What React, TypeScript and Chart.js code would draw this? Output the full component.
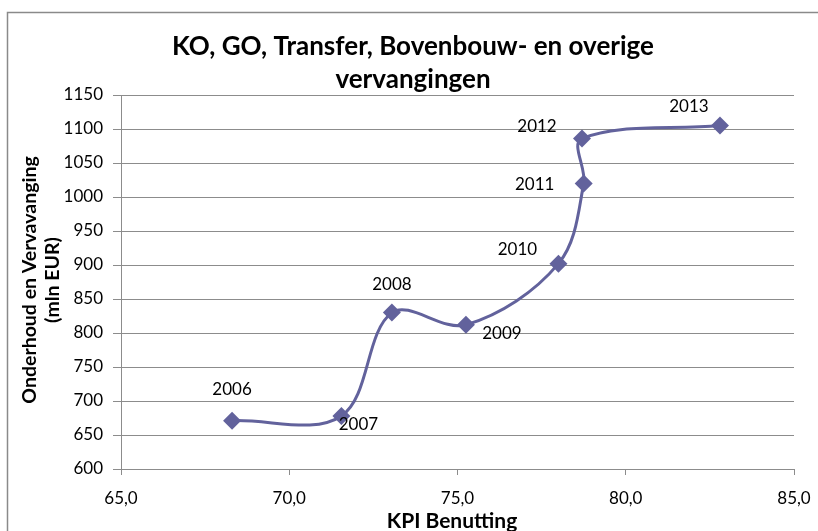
import React, { useEffect, useRef } from "react";
import { Chart, registerables } from "chart.js";

Chart.register(...registerables);

const years = ["2006", "2007", "2008", "2009", "2010", "2011", "2012", "2013"];
const kpiBenutting = [68.3, 71.55, 73.05, 75.25, 78.0, 78.75, 78.7, 82.8];
const onderhoud = [671, 678, 830, 812, 902, 1020, 1086, 1105];
const xTickValues = [65, 70, 75, 80, 85];
const yTickValues = [600, 650, 700, 750, 800, 850, 900, 950, 1000, 1050, 1100, 1150];

const titleLines = ["KO, GO, Transfer, Bovenbouw- en overige", "vervangingen"];
const yTitleLines = ["Onderhoud en Vervavanging", "(mln EUR)"];
const xTitle = "KPI Benutting";

// label offsets relative to each point (dx, dy) in px
const labelOffsets = [
  [0, -31],
  [17, 9],
  [0, -28],
  [36, 9],
  [-41, -14],
  [-49, 1],
  [-45, -12],
  [-31, -19],
];

const FONT = "Lato, 'Open Sans', sans-serif";
const LINE = "#62629c";
const GRID = "#8c8c8c";

const decor = {
  id: "decor",
  afterDraw(chart: any) {
    const ctx = chart.ctx;
    const area = chart.chartArea;
    ctx.save();
    // outer border
    ctx.strokeStyle = "#8a8a8a";
    ctx.lineWidth = 1.5;
    ctx.strokeRect(7.5, 12.5, 830, 560);

    // title
    ctx.fillStyle = "#000";
    ctx.textAlign = "center";
    ctx.textBaseline = "middle";
    ctx.font = `bold 26px ${FONT}`;
    ctx.fillText(titleLines[0], 413, 47);
    ctx.fillText(titleLines[1], 413, 80);

    // x title
    ctx.font = `bold 21px ${FONT}`;
    ctx.fillText(xTitle, 452, 521);

    // y title
    ctx.save();
    ctx.translate(30, (area.top + area.bottom) / 2 - 2);
    ctx.rotate(-Math.PI / 2);
    ctx.font = `bold 19.5px ${FONT}`;
    ctx.fillText(yTitleLines[0], 0, 0);
    ctx.fillText(yTitleLines[1], 0, 23);
    ctx.restore();

    // data labels
    const meta = chart.getDatasetMeta(0);
    ctx.font = `17px ${FONT}`;
    meta.data.forEach((pt: any, i: number) => {
      const off = labelOffsets[i];
      ctx.fillText(years[i], pt.x + off[0], pt.y + off[1]);
    });
    ctx.restore();
  },
};

export default function App() {
  const ref = useRef<HTMLCanvasElement>(null);
  useEffect(() => {
    document.body.style.margin = "0";
    const chart = new Chart(ref.current as HTMLCanvasElement, {
      type: "scatter",
      data: {
        datasets: [
          {
            data: kpiBenutting.map((x, i) => ({ x, y: onderhoud[i] })),
            showLine: true,
            borderColor: LINE,
            backgroundColor: LINE,
            borderWidth: 3,
            tension: 0.35,
            pointStyle: "rectRot",
            pointRadius: 9,
            pointBorderWidth: 0,
          },
        ],
      },
      options: {
        animation: false,
        responsive: false,
        layout: { padding: { top: 95, right: 24, left: 0, bottom: 0 } },
        plugins: { legend: { display: false }, tooltip: { enabled: false }, title: { display: false } },
        scales: {
          x: {
            type: "linear",
            min: 65,
            max: 85,
            afterBuildTicks: (s: any) => {
              s.ticks = xTickValues.map((v) => ({ value: v }));
            },
            afterFit: (s: any) => {
              s.height = 62;
              s.paddingLeft = 0;
              s.paddingRight = 0;
            },
            ticks: {
              color: "#000",
              font: { family: FONT, size: 17 },
              padding: 13,
              callback: (v: any) => Number(v).toFixed(1).replace(".", ","),
            },
            grid: { drawOnChartArea: false, drawTicks: true, tickLength: 6, color: GRID },
            border: { color: GRID, width: 1 },
          },
          y: {
            min: 600,
            max: 1150,
            afterBuildTicks: (s: any) => {
              s.ticks = yTickValues.map((v) => ({ value: v }));
            },
            afterFit: (s: any) => {
              s.width = 121;
              s.paddingTop = 0;
              s.paddingBottom = 0;
            },
            ticks: {
              color: "#000",
              font: { family: FONT, size: 17 },
              padding: 10,
              callback: (v: any) => String(v),
            },
            grid: { color: GRID, tickLength: 8, lineWidth: 1 },
            border: { color: GRID, width: 1 },
          },
        },
      },
      plugins: [decor],
    } as any);
    return () => chart.destroy();
  }, []);
  return <canvas ref={ref} width={818} height={531} style={{ display: "block" }} />;
}
